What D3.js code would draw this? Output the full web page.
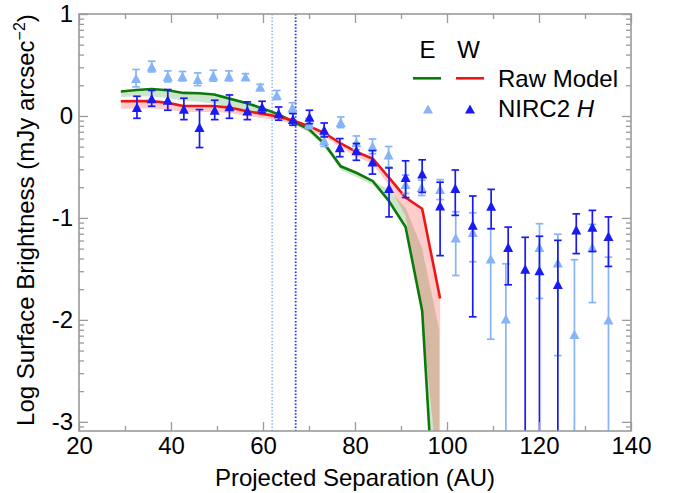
<!DOCTYPE html>
<html><head><meta charset="utf-8">
<script src="https://cdn.jsdelivr.net/npm/d3@7"></script>
<style>
html,body{margin:0;padding:0;background:#fff;}
svg text{font-family:"Liberation Sans",Arial,Helvetica,sans-serif;fill:#000;}
</style></head>
<body><svg id="chart" width="678" height="493"></svg>
<script>
// ---------------- data ----------------
const xTicks = [20, 40, 60, 80, 100, 120, 140];
const xMinorTicks = [30, 50, 70, 90, 110, 130];
const yTicks = [-3, -2, -1, 0, 1];
const yMinorMantissa = [2, 3, 4, 5, 6, 7, 8, 9];

// East (light blue) NIRC2 H
const eastX  = [32.4, 35.8, 39.3, 42.5, 45.8, 49.2, 52.6, 56.2, 59.4, 63.0, 66.4, 70.0, 73.3, 76.9, 80.3, 83.8, 87.3, 91.0, 94.5, 98.5, 101.9, 105.6, 109.5, 112.8, 120.1, 124.1, 127.7, 131.6, 135.1];
const eastY  = [0.37, 0.485, 0.39, 0.39, 0.36, 0.395, 0.39, 0.385, 0.285, 0.205, 0.08, -0.075, -0.24, -0.062, -0.26, -0.298, -0.38, -0.67, -0.70, -0.72, -1.195, -1.14, -1.40, -1.99, -1.287, -1.44, -2.14, -1.287, -2.0];
const eastHi = [0.456, 0.537, 0.442, 0.436, 0.422, 0.449, 0.442, 0.415, 0.31, 0.25, 0.13, -0.025, -0.19, -0.01, -0.196, -0.226, -0.30, -0.58, -0.63, -0.625, -0.94, -0.95, -1.106, -1.45, -1.057, -1.16, -1.41, -1.064, -1.385];
const eastLo = [0.285, 0.432, 0.334, 0.344, 0.298, 0.341, 0.344, 0.355, 0.26, 0.161, 0.03, -0.125, -0.30, -0.114, -0.33, -0.37, -0.50, -0.76, -0.78, -0.82, -1.565, -1.43, -2.19, null, -1.79, -2.35, null, -1.83, null];

// West (dark blue) NIRC2 H
const westX  = [32.6, 35.8, 39.3, 42.8, 46.2, 49.5, 52.7, 56.6, 59.8, 63.4, 66.5, 70.1, 73.3, 76.7, 80.3, 83.8, 87.4, 91.0, 94.6, 98.5, 101.8, 105.6, 109.6, 113.3, 117.0, 120.1, 124.1, 128.1, 131.6, 135.1];
const westY  = [0.085, 0.17, 0.157, 0.069, -0.11, 0.059, 0.092, 0.05, 0.089, 0.023, -0.032, -0.01, -0.137, -0.31, -0.34, -0.45, -0.71, -0.60, -0.566, -0.88, -0.71, -1.07, -0.884, -1.287, -1.50, -1.515, -1.65, -1.116, -1.09, -1.18];
const westHi = [0.193, 0.25, 0.259, 0.174, 0.063, 0.154, 0.206, 0.138, 0.144, 0.088, 0.023, 0.056, -0.069, -0.222, -0.27, -0.34, -0.51, -0.44, -0.43, -0.65, -0.53, -0.785, -0.72, -1.09, -1.19, -1.18, -1.22, -0.96, -0.926, -0.99];
const westLo = [-0.023, 0.095, 0.056, -0.036, -0.31, -0.036, -0.023, -0.036, 0.03, -0.042, -0.091, -0.075, -0.206, -0.40, -0.435, -0.57, -0.99, -0.80, -0.75, -1.37, -0.975, -1.97, -1.106, -1.656, null, null, null, -1.35, -1.33, -1.476];

// Raw models
const modelX      = [29.1, 32.5, 35.8, 39.3, 42.7, 46.1, 49.4, 52.7, 56.3, 59.6, 63.0, 66.4, 70.0, 73.3, 76.9, 80.4, 83.9, 87.3, 91.0, 94.6, 98.3];
const modelE      = [0.24, 0.255, 0.265, 0.252, 0.226, 0.222, 0.21, 0.17, 0.128, 0.079, 0.023, -0.05, -0.13, -0.27, -0.494, -0.56, -0.64, -0.83, -1.09, -1.91, -4.7];
const modelEBandLo= [0.185, 0.19, 0.19, 0.175, 0.15, 0.14, 0.12, 0.09, 0.056, 0.03, -0.01, -0.08, -0.16, -0.30, -0.53, -0.60, -0.68, -0.83, -1.09, -1.91, -4.7];
const modelEBandHi= [0.24, 0.255, 0.265, 0.252, 0.226, 0.222, 0.21, 0.17, 0.128, 0.079, 0.023, -0.05, -0.13, -0.27, -0.494, -0.56, -0.64, -0.72, -0.90, -1.30, -2.1];
const modelWX     = [29.1, 32.5, 35.8, 39.3, 42.7, 46.1, 49.4, 52.7, 56.3, 59.6, 63.0, 66.4, 70.0, 73.3, 76.9, 80.4, 83.9, 87.3, 91.0, 94.6, 98.5];
const modelW      = [0.144, 0.145, 0.147, 0.128, 0.098, 0.098, 0.098, 0.082, 0.049, 0.023, -0.003, -0.042, -0.10, -0.167, -0.27, -0.354, -0.42, -0.60, -0.80, -0.91, -1.79];
const modelWBandLo= [0.07, 0.07, 0.075, 0.06, 0.04, 0.04, 0.04, 0.03, 0.0, -0.02, -0.04, -0.08, -0.14, -0.20, -0.31, -0.40, -0.47, -0.68, -0.98, -2.0, -3.7];
const modelWBandHi= [0.144, 0.145, 0.147, 0.128, 0.098, 0.098, 0.098, 0.082, 0.049, 0.023, -0.003, -0.042, -0.10, -0.167, -0.27, -0.354, -0.42, -0.60, -0.80, -0.91, -1.79];

// Vertical dotted lines (E, W)
const vlineE = 62.0, vlineW = 67.1;

// ---------------- drawing ----------------
const colDark = "#1a1af5", colLight = "#86b4f7", colGreen = "#0b7a0b", colRed = "#f01414", axisCol = "#9a9a9a";
const svg = d3.select("#chart");
const L = 79, R = 631, T = 14, B = 431;
const x = d3.scaleLinear().domain([20, 140]).range([L, R]);
const y = d3.scaleLinear().domain([-3.09, 1]).range([B, T]);

svg.append("defs").append("clipPath").attr("id", "clip")
  .append("rect").attr("x", L).attr("y", T).attr("width", R - L).attr("height", B - T);
const plot = svg.append("g").attr("clip-path", "url(#clip)");

// bands
function band(xs, lo, hi, fill) {
  const data = xs.map((d, i) => ({x: d, lo: lo[i], hi: hi[i]}));
  plot.append("path").datum(data)
    .attr("d", d3.area().x(d => x(d.x)).y0(d => y(d.lo)).y1(d => y(d.hi)))
    .attr("fill", fill).attr("stroke", "none");
}
band(modelX, modelEBandLo, modelEBandHi, "rgba(0,128,0,0.2)");
band(modelWX, modelWBandLo, modelWBandHi, "rgba(255,0,0,0.2)");

// dotted lines
plot.append("line").attr("x1", x(vlineE)).attr("x2", x(vlineE)).attr("y1", T).attr("y2", B)
  .attr("stroke", "#9cc0f8").attr("stroke-width", 1.8).attr("stroke-dasharray", "1.5,1.8");
plot.append("line").attr("x1", x(vlineW)).attr("x2", x(vlineW)).attr("y1", T).attr("y2", B)
  .attr("stroke", "#2a2af0").attr("stroke-width", 1.8).attr("stroke-dasharray", "1.5,1.8");

// model lines
function mline(xs, ys, col) {
  const data = xs.map((d, i) => [d, ys[i]]);
  plot.append("path").datum(data)
    .attr("d", d3.line().x(d => x(d[0])).y(d => y(d[1])))
    .attr("fill", "none").attr("stroke", col).attr("stroke-width", 2.6).attr("stroke-linejoin", "miter");
}
mline(modelX, modelE, colGreen);
mline(modelWX, modelW, colRed);

// data points
const tri = (w, h) => `M0,${-h/2}L${w/2},${h/2}L${-w/2},${h/2}Z`;
function pts(xs, ys, hi, lo, col) {
  const data = xs.map((d, i) => ({x: d, y: ys[i], hi: hi[i], lo: lo[i]}));
  const g = plot.append("g");
  const cap = 3.8;
  data.forEach(d => {
    const cx = x(d.x), yHi = y(d.hi), yLo = d.lo === null ? B + 20 : y(d.lo);
    g.append("line").attr("x1", cx).attr("x2", cx).attr("y1", yHi).attr("y2", yLo)
      .attr("stroke", col).attr("stroke-width", 1.7);
    g.append("line").attr("x1", cx - cap).attr("x2", cx + cap).attr("y1", yHi).attr("y2", yHi)
      .attr("stroke", col).attr("stroke-width", 1.7);
    if (d.lo !== null)
      g.append("line").attr("x1", cx - cap).attr("x2", cx + cap).attr("y1", yLo).attr("y2", yLo)
        .attr("stroke", col).attr("stroke-width", 1.7);
  });
  g.selectAll("path.m").data(data).join("path").attr("class", "m")
    .attr("d", tri(10, 9.5)).attr("transform", d => `translate(${x(d.x)},${y(d.y)})`)
    .attr("fill", col);
}
pts(eastX, eastY, eastHi, eastLo, colLight);
pts(westX, westY, westHi, westLo, colDark);

// axes
const fs = 24;
function styleAxis(g, labels) {
  g.select(".domain").remove();
  g.selectAll(".tick line").attr("stroke", axisCol).attr("stroke-width", 1.3);
  g.selectAll(".tick text").attr("font-size", fs).attr("fill", "#000")
    .style("font-family", '"Liberation Sans",Arial,sans-serif');
  if (!labels) g.selectAll(".tick text").remove();
}
const yMinor = [];
[-4, -3, -2, -1, 0].forEach(k => yMinorMantissa.forEach(m => {
  const v = k + Math.log10(m);
  if (v > -3.09 && v < 1) yMinor.push(v);
}));

svg.append("g").attr("transform", `translate(0,${B})`)
  .call(d3.axisBottom(x).tickValues(xTicks).tickSize(-9).tickPadding(6).tickFormat(d => d))
  .call(g => styleAxis(g, true));
svg.append("g").attr("transform", `translate(0,${B})`)
  .call(d3.axisBottom(x).tickValues(xMinorTicks).tickSize(-5)).call(g => styleAxis(g, false));
svg.append("g").attr("transform", `translate(0,${T})`)
  .call(d3.axisTop(x).tickValues(xTicks).tickSize(-9)).call(g => styleAxis(g, false));
svg.append("g").attr("transform", `translate(0,${T})`)
  .call(d3.axisTop(x).tickValues(xMinorTicks).tickSize(-5)).call(g => styleAxis(g, false));

svg.append("g").attr("transform", `translate(${L},0)`)
  .call(d3.axisLeft(y).tickValues(yTicks).tickSize(-9).tickPadding(6).tickFormat(d => String(d)))
  .call(g => styleAxis(g, true));
svg.append("g").attr("transform", `translate(${L},0)`)
  .call(d3.axisLeft(y).tickValues(yMinor).tickSize(-5)).call(g => styleAxis(g, false));
svg.append("g").attr("transform", `translate(${R},0)`)
  .call(d3.axisRight(y).tickValues(yTicks).tickSize(-9)).call(g => styleAxis(g, false));
svg.append("g").attr("transform", `translate(${R},0)`)
  .call(d3.axisRight(y).tickValues(yMinor).tickSize(-5)).call(g => styleAxis(g, false));

// frame
svg.append("rect").attr("x", L).attr("y", T).attr("width", R - L).attr("height", B - T)
  .attr("fill", "none").attr("stroke", axisCol).attr("stroke-width", 1.6);

// axis titles
svg.append("text").attr("x", (L + R) / 2).attr("y", 486).attr("text-anchor", "middle")
  .attr("font-size", fs).text("Projected Separation (AU)");
const yl = svg.append("text").attr("transform", "translate(33.5,220) rotate(-90)")
  .attr("text-anchor", "middle").attr("font-size", fs);
yl.append("tspan").text("Log Surface Brightness (mJy arcsec");
yl.append("tspan").attr("font-size", 16).attr("dy", -9).text("\u22122");
yl.append("tspan").attr("dy", 9).text(")");

// legend
const lg = svg.append("g");
lg.append("text").attr("x", 427.5).attr("y", 57.7).attr("text-anchor", "middle").attr("font-size", fs).text("E");
lg.append("text").attr("x", 468.5).attr("y", 57.7).attr("text-anchor", "middle").attr("font-size", fs).text("W");
lg.append("line").attr("x1", 413).attr("x2", 441).attr("y1", 78.3).attr("y2", 78.3).attr("stroke", colGreen).attr("stroke-width", 2.6);
lg.append("line").attr("x1", 456).attr("x2", 484).attr("y1", 78.3).attr("y2", 78.3).attr("stroke", colRed).attr("stroke-width", 2.6);
lg.append("text").attr("x", 498).attr("y", 86.5).attr("font-size", fs).text("Raw Model");
lg.append("path").attr("d", tri(10, 9)).attr("transform", "translate(428,109)").attr("fill", colLight);
lg.append("path").attr("d", tri(10, 9)).attr("transform", "translate(470,109)").attr("fill", colDark);
const nt = lg.append("text").attr("x", 498).attr("y", 117.3).attr("font-size", fs);
nt.append("tspan").text("NIRC2 ");
nt.append("tspan").attr("font-style", "italic").text("H");
</script></body></html>
